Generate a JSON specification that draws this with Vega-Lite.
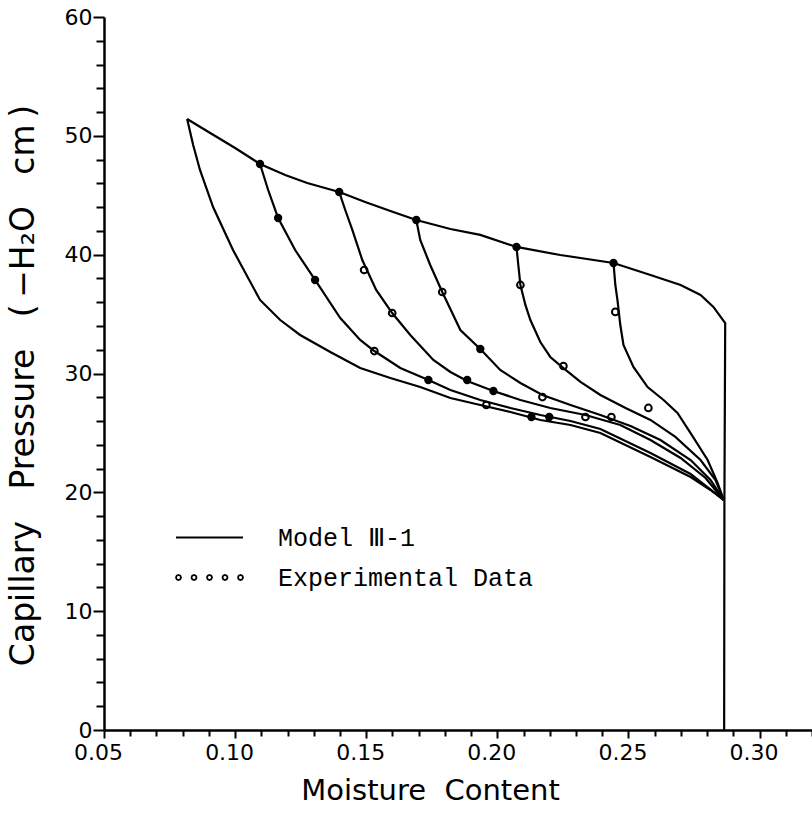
{
  "$schema": "https://vega.github.io/schema/vega-lite/v6.json",
  "width": 708,
  "height": 713,
  "autosize": {"type": "none"},
  "padding": {"left": 104, "top": 17, "right": 0, "bottom": 85},
  "background": "white",
  "config": {"view": {"stroke": null}, "font": "DejaVu Sans"},
  "datasets": {
    "lines": [
      {"c": "T", "i": 0, "x": 0.0817, "y": 51.42}, {"c": "T", "i": 1, "x": 0.0905, "y": 50.24}, {"c": "T", "i": 2, "x": 0.1000, "y": 48.98},
      {"c": "T", "i": 3, "x": 0.1095, "y": 47.63}, {"c": "T", "i": 4, "x": 0.1191, "y": 46.71}, {"c": "T", "i": 5, "x": 0.1275, "y": 46.03},
      {"c": "T", "i": 6, "x": 0.1397, "y": 45.27}, {"c": "T", "i": 7, "x": 0.1496, "y": 44.43}, {"c": "T", "i": 8, "x": 0.1603, "y": 43.59},
      {"c": "T", "i": 9, "x": 0.1691, "y": 42.92}, {"c": "T", "i": 10, "x": 0.1821, "y": 42.16}, {"c": "T", "i": 11, "x": 0.1935, "y": 41.66},
      {"c": "T", "i": 12, "x": 0.2073, "y": 40.65}, {"c": "T", "i": 13, "x": 0.2240, "y": 39.97}, {"c": "T", "i": 14, "x": 0.2443, "y": 39.30},
      {"c": "T", "i": 15, "x": 0.2584, "y": 38.29}, {"c": "T", "i": 16, "x": 0.2699, "y": 37.45}, {"c": "T", "i": 17, "x": 0.2775, "y": 36.61},
      {"c": "T", "i": 18, "x": 0.2824, "y": 35.60}, {"c": "T", "i": 19, "x": 0.2869, "y": 34.25}, {"c": "T", "i": 20, "x": 0.2866, "y": 19.36},
      {"c": "T", "i": 21, "x": 0.2865, "y": 0},
      {"c": "B", "i": 0, "x": 0.0817, "y": 51.42}, {"c": "B", "i": 1, "x": 0.0840, "y": 49.23}, {"c": "B", "i": 2, "x": 0.0866, "y": 47.13},
      {"c": "B", "i": 3, "x": 0.0916, "y": 44.01}, {"c": "B", "i": 4, "x": 0.0992, "y": 40.39}, {"c": "B", "i": 5, "x": 0.1095, "y": 36.19},
      {"c": "B", "i": 6, "x": 0.1172, "y": 34.50}, {"c": "B", "i": 7, "x": 0.1248, "y": 33.24}, {"c": "B", "i": 8, "x": 0.1363, "y": 31.81},
      {"c": "B", "i": 9, "x": 0.1477, "y": 30.46}, {"c": "B", "i": 10, "x": 0.1592, "y": 29.62}, {"c": "B", "i": 11, "x": 0.1706, "y": 28.86},
      {"c": "B", "i": 12, "x": 0.1821, "y": 27.94}, {"c": "B", "i": 13, "x": 0.1935, "y": 27.35}, {"c": "B", "i": 14, "x": 0.2050, "y": 26.76},
      {"c": "B", "i": 15, "x": 0.2164, "y": 26.09}, {"c": "B", "i": 16, "x": 0.2279, "y": 25.67}, {"c": "B", "i": 17, "x": 0.2393, "y": 24.99},
      {"c": "B", "i": 18, "x": 0.2584, "y": 22.97}, {"c": "B", "i": 19, "x": 0.2737, "y": 21.29}, {"c": "B", "i": 20, "x": 0.2813, "y": 20.2},
      {"c": "B", "i": 21, "x": 0.2863, "y": 19.36},
      {"c": "C2", "i": 0, "x": 0.1095, "y": 47.63}, {"c": "C2", "i": 1, "x": 0.1126, "y": 45.44}, {"c": "C2", "i": 2, "x": 0.1164, "y": 43.09},
      {"c": "C2", "i": 3, "x": 0.1229, "y": 40.39}, {"c": "C2", "i": 4, "x": 0.1305, "y": 37.87}, {"c": "C2", "i": 5, "x": 0.1401, "y": 34.67},
      {"c": "C2", "i": 6, "x": 0.1477, "y": 32.82}, {"c": "C2", "i": 7, "x": 0.1531, "y": 31.89}, {"c": "C2", "i": 8, "x": 0.1630, "y": 30.46},
      {"c": "C2", "i": 9, "x": 0.1737, "y": 29.45}, {"c": "C2", "i": 10, "x": 0.1821, "y": 28.61}, {"c": "C2", "i": 11, "x": 0.1935, "y": 27.77},
      {"c": "C2", "i": 12, "x": 0.2050, "y": 27.10}, {"c": "C2", "i": 13, "x": 0.2164, "y": 26.51}, {"c": "C2", "i": 14, "x": 0.2279, "y": 26.00},
      {"c": "C2", "i": 15, "x": 0.2393, "y": 25.33}, {"c": "C2", "i": 16, "x": 0.2584, "y": 23.31}, {"c": "C2", "i": 17, "x": 0.2737, "y": 21.54},
      {"c": "C2", "i": 18, "x": 0.2863, "y": 19.36},
      {"c": "C3", "i": 0, "x": 0.1397, "y": 45.27}, {"c": "C3", "i": 1, "x": 0.1420, "y": 43.76}, {"c": "C3", "i": 2, "x": 0.1447, "y": 42.08},
      {"c": "C3", "i": 3, "x": 0.1485, "y": 39.55}, {"c": "C3", "i": 4, "x": 0.1538, "y": 37.03}, {"c": "C3", "i": 5, "x": 0.1599, "y": 35.09},
      {"c": "C3", "i": 6, "x": 0.1668, "y": 33.24}, {"c": "C3", "i": 7, "x": 0.1756, "y": 31.14}, {"c": "C3", "i": 8, "x": 0.1821, "y": 30.13},
      {"c": "C3", "i": 9, "x": 0.1885, "y": 29.37}, {"c": "C3", "i": 10, "x": 0.1985, "y": 28.53}, {"c": "C3", "i": 11, "x": 0.2088, "y": 27.77},
      {"c": "C3", "i": 12, "x": 0.2202, "y": 27.10}, {"c": "C3", "i": 13, "x": 0.2336, "y": 26.51}, {"c": "C3", "i": 14, "x": 0.2469, "y": 25.67},
      {"c": "C3", "i": 15, "x": 0.2584, "y": 24.40}, {"c": "C3", "i": 16, "x": 0.2699, "y": 22.89}, {"c": "C3", "i": 17, "x": 0.2794, "y": 21.21},
      {"c": "C3", "i": 18, "x": 0.2863, "y": 19.36},
      {"c": "C4", "i": 0, "x": 0.1691, "y": 42.92}, {"c": "C4", "i": 1, "x": 0.1706, "y": 41.24}, {"c": "C4", "i": 2, "x": 0.1744, "y": 39.13},
      {"c": "C4", "i": 3, "x": 0.1790, "y": 36.86}, {"c": "C4", "i": 4, "x": 0.1859, "y": 33.66}, {"c": "C4", "i": 5, "x": 0.1935, "y": 32.06},
      {"c": "C4", "i": 6, "x": 0.2011, "y": 30.30}, {"c": "C4", "i": 7, "x": 0.2088, "y": 29.20}, {"c": "C4", "i": 8, "x": 0.2172, "y": 28.19},
      {"c": "C4", "i": 9, "x": 0.2279, "y": 27.35}, {"c": "C4", "i": 10, "x": 0.2393, "y": 26.51}, {"c": "C4", "i": 11, "x": 0.2508, "y": 25.58},
      {"c": "C4", "i": 12, "x": 0.2622, "y": 24.40}, {"c": "C4", "i": 13, "x": 0.2737, "y": 22.72}, {"c": "C4", "i": 14, "x": 0.2813, "y": 21.04},
      {"c": "C4", "i": 15, "x": 0.2863, "y": 19.36},
      {"c": "C5", "i": 0, "x": 0.2073, "y": 40.65}, {"c": "C5", "i": 1, "x": 0.2080, "y": 39.13}, {"c": "C5", "i": 2, "x": 0.2088, "y": 37.45},
      {"c": "C5", "i": 3, "x": 0.2107, "y": 35.77}, {"c": "C5", "i": 4, "x": 0.2126, "y": 34.50}, {"c": "C5", "i": 5, "x": 0.2164, "y": 32.65},
      {"c": "C5", "i": 6, "x": 0.2202, "y": 31.39}, {"c": "C5", "i": 7, "x": 0.2252, "y": 30.46}, {"c": "C5", "i": 8, "x": 0.2317, "y": 29.29},
      {"c": "C5", "i": 9, "x": 0.2393, "y": 28.19}, {"c": "C5", "i": 10, "x": 0.2489, "y": 27.10}, {"c": "C5", "i": 11, "x": 0.2584, "y": 26.09},
      {"c": "C5", "i": 12, "x": 0.2679, "y": 24.66}, {"c": "C5", "i": 13, "x": 0.2775, "y": 22.72}, {"c": "C5", "i": 14, "x": 0.2832, "y": 21.04},
      {"c": "C5", "i": 15, "x": 0.2863, "y": 19.36},
      {"c": "C6", "i": 0, "x": 0.2443, "y": 39.30}, {"c": "C6", "i": 1, "x": 0.2450, "y": 37.45}, {"c": "C6", "i": 2, "x": 0.2458, "y": 36.19},
      {"c": "C6", "i": 3, "x": 0.2469, "y": 34.08}, {"c": "C6", "i": 4, "x": 0.2481, "y": 32.40}, {"c": "C6", "i": 5, "x": 0.2519, "y": 30.55},
      {"c": "C6", "i": 6, "x": 0.2573, "y": 28.86}, {"c": "C6", "i": 7, "x": 0.2634, "y": 27.77}, {"c": "C6", "i": 8, "x": 0.2687, "y": 26.68},
      {"c": "C6", "i": 9, "x": 0.2737, "y": 24.99}, {"c": "C6", "i": 10, "x": 0.2802, "y": 22.72}, {"c": "C6", "i": 11, "x": 0.2840, "y": 20.79},
      {"c": "C6", "i": 12, "x": 0.2863, "y": 19.36}
    ],
    "pts": [
      {"x": 0.1095, "y": 47.63, "kind": "filled", "series": "Experimental Data"},
      {"x": 0.1164, "y": 43.09, "kind": "filled", "series": "Experimental Data"},
      {"x": 0.1305, "y": 37.87, "kind": "filled", "series": "Experimental Data"},
      {"x": 0.1397, "y": 45.27, "kind": "filled", "series": "Experimental Data"},
      {"x": 0.1691, "y": 42.92, "kind": "filled", "series": "Experimental Data"},
      {"x": 0.1737, "y": 29.45, "kind": "filled", "series": "Experimental Data"},
      {"x": 0.1885, "y": 29.45, "kind": "filled", "series": "Experimental Data"},
      {"x": 0.1985, "y": 28.53, "kind": "filled", "series": "Experimental Data"},
      {"x": 0.1935, "y": 32.06, "kind": "filled", "series": "Experimental Data"},
      {"x": 0.2073, "y": 40.65, "kind": "filled", "series": "Experimental Data"},
      {"x": 0.2130, "y": 26.34, "kind": "filled", "series": "Experimental Data"},
      {"x": 0.2198, "y": 26.34, "kind": "filled", "series": "Experimental Data"},
      {"x": 0.2443, "y": 39.30, "kind": "filled", "series": "Experimental Data"},
      {"x": 0.1492, "y": 38.71, "kind": "open", "series": "Experimental Data"},
      {"x": 0.1531, "y": 31.89, "kind": "open", "series": "Experimental Data"},
      {"x": 0.1599, "y": 35.09, "kind": "open", "series": "Experimental Data"},
      {"x": 0.1790, "y": 36.86, "kind": "open", "series": "Experimental Data"},
      {"x": 0.1958, "y": 27.35, "kind": "open", "series": "Experimental Data"},
      {"x": 0.2088, "y": 37.45, "kind": "open", "series": "Experimental Data"},
      {"x": 0.2172, "y": 28.02, "kind": "open", "series": "Experimental Data"},
      {"x": 0.2252, "y": 30.63, "kind": "open", "series": "Experimental Data"},
      {"x": 0.2336, "y": 26.34, "kind": "open", "series": "Experimental Data"},
      {"x": 0.2435, "y": 26.34, "kind": "open", "series": "Experimental Data"},
      {"x": 0.2450, "y": 35.18, "kind": "open", "series": "Experimental Data"},
      {"x": 0.2576, "y": 27.10, "kind": "open", "series": "Experimental Data"}
    ]
  },
  "encoding": {
    "x": {
      "field": "x", "type": "quantitative",
      "scale": {"domain": [0.05, 0.32], "nice": false, "zero": false},
      "axis": {
        "values": [0.05, 0.06, 0.07, 0.08, 0.09, 0.10, 0.11, 0.12, 0.13, 0.14, 0.15, 0.16, 0.17, 0.18, 0.19, 0.20, 0.21, 0.22, 0.23, 0.24, 0.25, 0.26, 0.27, 0.28, 0.29, 0.30, 0.31, 0.32],
        "labelExpr": "round(datum.value*100) % 5 == 0 ? format(datum.value, '.2f') : ''",
        "tickSize": {"condition": {"test": "round(datum.value*100) % 5 == 0", "value": 8}, "value": 6},
        "tickWidth": 2, "tickColor": "black",
        "domainColor": "black", "domainWidth": 2.5,
        "grid": false, "labelOverlap": false, "labelFlush": false,
        "labelFont": "DejaVu Sans", "labelFontSize": 22, "labelColor": "black",
        "labelPadding": 4, "labelOffset": -6,
        "title": "Moisture\u00a0 Content",
        "titleFont": "DejaVu Sans", "titleFontSize": 29, "titleFontWeight": "normal", "titleColor": "black",
        "titleX": 326, "titleY": 69, "titleAlign": "center", "titleBaseline": "alphabetic"
      }
    },
    "y": {
      "field": "y", "type": "quantitative",
      "scale": {"domain": [0, 60], "nice": false, "zero": false},
      "axis": {
        "values": [0, 2, 4, 6, 8, 10, 12, 14, 16, 18, 20, 22, 24, 26, 28, 30, 32, 34, 36, 38, 40, 42, 44, 46, 48, 50, 52, 54, 56, 58, 60],
        "labelExpr": "datum.value % 10 == 0 ? datum.value : ''",
        "tickSize": {"condition": {"test": "datum.value % 10 == 0", "value": 11}, "value": 8},
        "tickWidth": 2, "tickColor": "black",
        "domainColor": "black", "domainWidth": 2.5,
        "grid": false, "labelOverlap": false, "labelFlush": false,
        "labelFont": "DejaVu Sans", "labelFontSize": 22, "labelColor": "black",
        "labelPadding": 1,
        "title": "Capillary\u00a0\u00a0 Pressure\u00a0\u00a0 (\u2009\u2212H\u2082O\u00a0\u00a0 cm\u2009)",
        "titleFont": "DejaVu Sans", "titleFontSize": 33, "titleFontWeight": "normal", "titleColor": "black",
        "titleAngle": -90, "titleX": -71, "titleY": 368, "titleAlign": "center", "titleBaseline": "alphabetic"
      }
    }
  },
  "layer": [
    {
      "data": {"name": "lines"},
      "mark": {"type": "line", "color": "black", "strokeWidth": 2.2},
      "encoding": {
        "detail": {"field": "c"},
        "order": {"field": "i", "type": "quantitative"}
      }
    },
    {
      "data": {"name": "pts"},
      "transform": [{"filter": "datum.kind == 'filled'"}],
      "mark": {"type": "point", "shape": "circle", "filled": true, "color": "black", "size": 70, "opacity": 1}
    },
    {
      "data": {"name": "pts"},
      "transform": [{"filter": "datum.kind == 'open'"}],
      "mark": {"type": "point", "shape": "circle", "filled": false, "color": "black", "size": 45, "strokeWidth": 2, "opacity": 1}
    },
    {
      "data": {"name": "pts"},
      "mark": {"type": "point", "filled": false, "color": "black", "opacity": 0, "strokeWidth": 1.6},
      "encoding": {
        "shape": {
          "field": "series", "type": "nominal",
          "scale": {
            "domain": ["Model \u2162-1", "Experimental Data"],
            "range": [
              "M-3.35,0L3.35,0",
              "M-2.85,0L-2.923,0.177L-3.1,0.25L-3.277,0.177L-3.35,0L-3.277,-0.177L-3.1,-0.25L-2.923,-0.177ZM-1.3,0L-1.373,0.177L-1.55,0.25L-1.727,0.177L-1.8,0L-1.727,-0.177L-1.55,-0.25L-1.373,-0.177ZM0.25,0L0.177,0.177L0,0.25L-0.177,0.177L-0.25,0L-0.177,-0.177L0,-0.25L0.177,-0.177ZM1.8,0L1.727,0.177L1.55,0.25L1.373,0.177L1.3,0L1.373,-0.177L1.55,-0.25L1.727,-0.177ZM3.35,0L3.277,0.177L3.1,0.25L2.923,0.177L2.85,0L2.923,-0.177L3.1,-0.25L3.277,-0.177Z"
            ]
          },
          "legend": {
            "title": null, "orient": "none", "legendX": 93, "legendY": 508,
            "symbolSize": 400, "symbolOpacity": 1, "symbolStrokeColor": "black", "symbolStrokeWidth": 1.8,
            "symbolFillColor": "transparent",
            "labelFont": "Liberation Mono", "labelFontSize": 25, "labelColor": "black", "labelLimit": 500,
            "labelOffset": 56, "rowPadding": 14, "padding": 0
          }
        }
      }
    },
    {
      "mark": {"type": "rule", "color": "black", "strokeWidth": 2.5},
      "encoding": {"y": {"datum": 60}, "x": null}
    }
  ]
}
